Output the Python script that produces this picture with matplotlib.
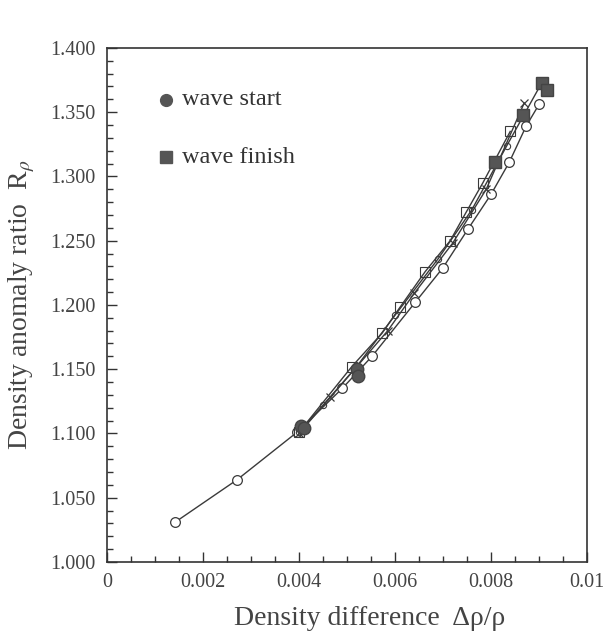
import numpy as np
import matplotlib.pyplot as plt
from matplotlib.ticker import MultipleLocator, FixedLocator, FixedFormatter

plt.rcParams['font.family'] = ['Liberation Serif', 'DejaVu Serif']
plt.rcParams['mathtext.fontset'] = 'stix'

# open circles, outer branch
circ_x = [0.00142, 0.00271, 0.00396, 0.00490, 0.00552, 0.00642, 0.00700, 0.00752, 0.00800, 0.00838, 0.00873, 0.00900]
circ_y = [1.031, 1.064, 1.101, 1.135, 1.160, 1.202, 1.229, 1.259, 1.286, 1.311, 1.339, 1.356]

# open squares
sq_x = [0.00400, 0.00510, 0.00573, 0.00610, 0.00663, 0.00715, 0.00748, 0.00783, 0.00840]
sq_y = [1.101, 1.152, 1.178, 1.198, 1.226, 1.250, 1.272, 1.295, 1.335]

# crosses
x_x = [0.00400, 0.00465, 0.00585, 0.00640, 0.00720, 0.00790, 0.00869]
x_y = [1.100, 1.128, 1.180, 1.209, 1.248, 1.290, 1.357]

# small circles
sm_x = [0.00400, 0.00450, 0.00520, 0.00600, 0.00690, 0.00760, 0.00833, 0.00906]
sm_y = [1.101, 1.122, 1.152, 1.192, 1.236, 1.274, 1.324, 1.373]

# wave start / finish
start_x = [0.00404, 0.00410, 0.00520, 0.00522]
start_y = [1.106, 1.104, 1.150, 1.145]
finish_x = [0.00808, 0.00867, 0.00906, 0.00917]
finish_y = [1.311, 1.348, 1.373, 1.367]

xticks = [0, 0.002, 0.004, 0.006, 0.008, 0.010]
xticklabels = ['0', '0.002', '0.004', '0.006', '0.008', '0.01']
yticks = [1.0, 1.05, 1.1, 1.15, 1.2, 1.25, 1.3, 1.35, 1.4]
yticklabels = ['1.000', '1.050', '1.100', '1.150', '1.200', '1.250', '1.300', '1.350', '1.400']

fig = plt.figure(figsize=(6.03, 6.35), dpi=100)
ax = fig.add_axes([0.1775, 0.115, 0.796, 0.8096])

c = '#3a3a3a'
ax.plot(circ_x, circ_y, '-', color=c, lw=1.0, marker='o', ms=7, mfc='white', mec=c, mew=0.9)
ax.plot(sq_x, sq_y, '-', color=c, lw=1.0, marker='s', ms=6.5, mfc='none', mec=c, mew=0.8)
ax.plot(x_x, x_y, '-', color=c, lw=1.0, marker='x', ms=6, mec=c, mew=0.9)
ax.plot(sm_x, sm_y, '-', color=c, lw=1.0, marker='o', ms=4.5, mfc='none', mec=c, mew=0.8)
ax.plot(start_x, start_y, 'o', color='#555555', ms=9, mec='#444444')
ax.plot(finish_x, finish_y, 's', color='#555555', ms=8.5, mec='#444444')

# legend drawn by hand
ax.plot([0.00123], [1.3595], 'o', color='#555555', ms=8.5)
ax.text(0.00156, 1.3595, 'wave start', fontsize=17.5, va='center', color='#333333')
ax.plot([0.00123], [1.315], 's', color='#555555', ms=8)
ax.text(0.00156, 1.315, 'wave finish', fontsize=17.5, va='center', color='#333333')

ax.set_xlim(0, 0.010)
ax.set_ylim(1.0, 1.4)
ax.xaxis.set_major_locator(FixedLocator(xticks))
ax.xaxis.set_major_formatter(FixedFormatter(xticklabels))
ax.yaxis.set_major_locator(FixedLocator(yticks))
ax.yaxis.set_major_formatter(FixedFormatter(yticklabels))
ax.xaxis.set_minor_locator(MultipleLocator(0.0005))
ax.yaxis.set_minor_locator(MultipleLocator(0.01))
ax.tick_params(which='both', direction='in', top=False, right=False, colors='#333333', labelcolor='#444444')
ax.tick_params(which='major', length=7, width=1, labelsize=14.5, pad=8)
ax.tick_params(which='minor', length=4, width=1)
for s in ax.spines.values():
    s.set_linewidth(1.2)
    s.set_color('#333333')

ax.set_xlabel('Density difference  \u0394\u03c1/\u03c1', fontsize=20, color='#444444', labelpad=12)
ax.xaxis.set_label_coords(0.548, -0.085)
ax.set_ylabel('Density anomaly ratio  R$_\\rho$', fontsize=20, color='#444444', labelpad=10)

fig.savefig('out.png', dpi=100)
